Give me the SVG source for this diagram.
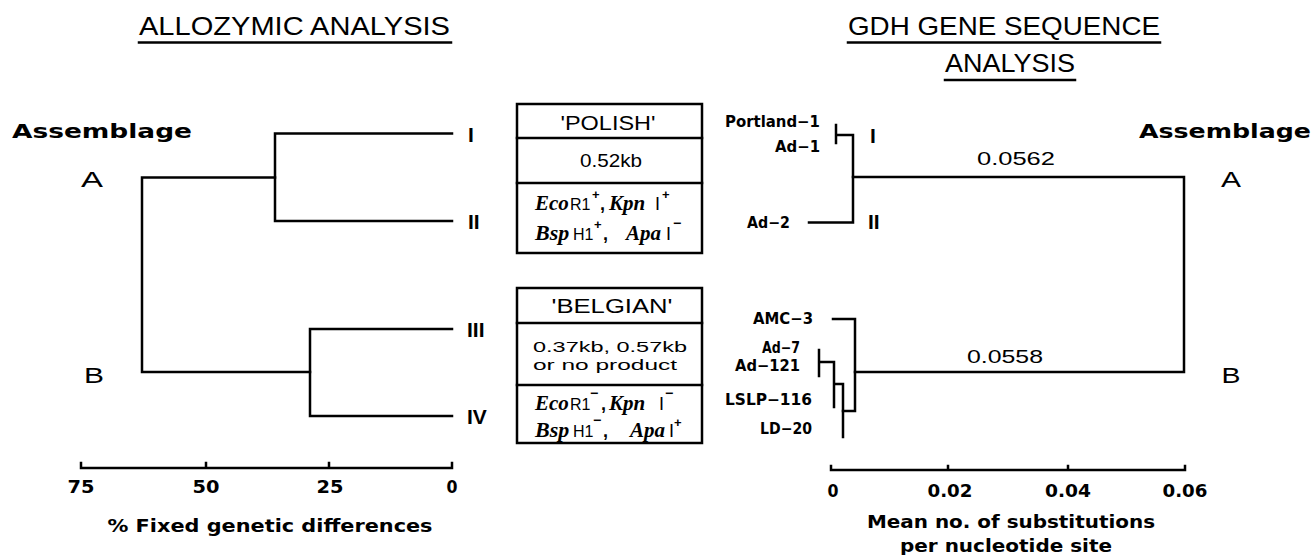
<svg xmlns="http://www.w3.org/2000/svg" width="1312" height="555" viewBox="0 0 1312 555">
<style>
.ln{stroke:#000;stroke-width:2.5;fill:none;stroke-linecap:square}
.bx{stroke:#000;stroke-width:2.5;fill:#fff}
.t{font-family:"Liberation Sans",Arial,sans-serif;fill:#000}
.d{font-family:"DejaVu Sans","Liberation Sans",sans-serif;font-weight:bold;fill:#000}
.b{font-weight:bold}
.s{font-family:"Liberation Serif","Times New Roman",serif;font-weight:bold;font-style:italic}
.p{font-size:13px;font-weight:bold}
.m{text-anchor:middle}
.e{text-anchor:end}
</style>
<rect width="1312" height="555" fill="#fff"/>

<g id="titles">
<text class="t" x="139" y="35" font-size="25" textLength="311" lengthAdjust="spacingAndGlyphs">ALLOZYMIC  ANALYSIS</text>
<line class="ln" x1="139" y1="42.5" x2="451" y2="42.5" stroke-width="2"/>
<text class="t" x="848" y="35" font-size="25" textLength="312" lengthAdjust="spacingAndGlyphs">GDH  GENE  SEQUENCE</text>
<line class="ln" x1="848" y1="42.5" x2="1160" y2="42.5" stroke-width="2"/>
<text class="t" x="945" y="72" font-size="25" textLength="130" lengthAdjust="spacingAndGlyphs">ANALYSIS</text>
<line class="ln" x1="945" y1="80" x2="1075" y2="80" stroke-width="2"/>
</g>

<g id="assemblage-left">
<text class="d" x="12" y="138" font-size="19" textLength="180" lengthAdjust="spacingAndGlyphs">Assemblage</text>
<text class="t" x="92" y="187" font-size="22" text-anchor="middle" textLength="22" lengthAdjust="spacingAndGlyphs">A</text>
<text class="t" x="94" y="383" font-size="22" text-anchor="middle" textLength="20" lengthAdjust="spacingAndGlyphs">B</text>
</g>
<g id="assemblage-right">
<text class="d" x="1139" y="138" font-size="19" textLength="172" lengthAdjust="spacingAndGlyphs">Assemblage</text>
<text class="t" x="1231" y="187" font-size="22" text-anchor="middle" textLength="20" lengthAdjust="spacingAndGlyphs">A</text>
<text class="t" x="1231" y="383" font-size="22" text-anchor="middle" textLength="19" lengthAdjust="spacingAndGlyphs">B</text>
</g>

<g id="roman-left" class="t b" font-size="21">
<text x="468" y="142">I</text>
<text x="468" y="229">II</text>
<text x="467" y="337">III</text>
<text x="467" y="424">IV</text>
</g>
<g id="roman-right" class="t b" font-size="21">
<text x="870" y="143">I</text>
<text x="868" y="229">II</text>
</g>

<g id="connectors">
<!-- left tree -->
<path class="ln" d="M452 133.5 H275 V221 H452"/>
<path class="ln" d="M275 177.5 H142 V372 H310"/>
<path class="ln" d="M452 329 H310 V416 H452"/>
<!-- left axis -->
<path class="ln" d="M81 463 V468 H452 V463 M206 463 V468 M329 463 V468" stroke-width="2"/>
<!-- right tree A -->
<path class="ln" d="M836 125 V143 M836 135 H853 M809 222.5 H853 V135"/>
<path class="ln" d="M853 177 H1184 V372 H855"/>
<!-- right tree B -->
<path class="ln" d="M833 319 H855 V411 H843"/>
<path class="ln" d="M819 350 V376 M819 362 H834 V407 M834 384 H843 V437"/>
<!-- right axis -->
<path class="ln" d="M831 466 V470 H1185 V466 M948 466 V470 M1068 466 V470" stroke-width="2"/>
</g>

<g id="left-axis-labels" class="d m" font-size="17">
<text x="81" y="493" textLength="27" lengthAdjust="spacingAndGlyphs">75</text>
<text x="206" y="493" textLength="27" lengthAdjust="spacingAndGlyphs">50</text>
<text x="330" y="493" textLength="27" lengthAdjust="spacingAndGlyphs">25</text>
<text x="452" y="493" textLength="11" lengthAdjust="spacingAndGlyphs">0</text>
<text x="270" y="532" textLength="325" lengthAdjust="spacingAndGlyphs">% Fixed  genetic  differences</text>
</g>

<g id="right-axis-labels" class="d m" font-size="17">
<text x="833" y="497" textLength="11" lengthAdjust="spacingAndGlyphs">0</text>
<text x="950" y="497" textLength="45" lengthAdjust="spacingAndGlyphs">0.02</text>
<text x="1068" y="497" textLength="46" lengthAdjust="spacingAndGlyphs">0.04</text>
<text x="1185" y="497" textLength="45" lengthAdjust="spacingAndGlyphs">0.06</text>
<text x="1011" y="528" textLength="288" lengthAdjust="spacingAndGlyphs">Mean  no.  of  substitutions</text>
<text x="1006" y="552" textLength="212" lengthAdjust="spacingAndGlyphs">per  nucleotide  site</text>
</g>

<g id="branch-lengths" class="t m" font-size="19">
<text x="1016" y="165" textLength="78" lengthAdjust="spacingAndGlyphs">0.0562</text>
<text x="1005" y="363" textLength="76" lengthAdjust="spacingAndGlyphs">0.0558</text>
</g>

<g id="taxa" class="d e" font-size="15">
<text x="820" y="127" textLength="95" lengthAdjust="spacingAndGlyphs">Portland−1</text>
<text x="820" y="152" textLength="45" lengthAdjust="spacingAndGlyphs">Ad−1</text>
<text x="790" y="228" textLength="43" lengthAdjust="spacingAndGlyphs">Ad−2</text>
<text x="813" y="324" textLength="60" lengthAdjust="spacingAndGlyphs">AMC−3</text>
<text x="800" y="353" textLength="38" lengthAdjust="spacingAndGlyphs">Ad−7</text>
<text x="800" y="371" textLength="65" lengthAdjust="spacingAndGlyphs">Ad−121</text>
<text x="812" y="405" textLength="87" lengthAdjust="spacingAndGlyphs">LSLP−116</text>
<text x="812" y="434" textLength="52" lengthAdjust="spacingAndGlyphs">LD−20</text>
</g>

<g id="box-polish">
<rect class="bx" x="517" y="104" width="185" height="149"/>
<line class="ln" x1="517" y1="138" x2="702" y2="138"/>
<line class="ln" x1="517" y1="183" x2="702" y2="183"/>
<text class="t m" x="608" y="130" font-size="20" textLength="95" lengthAdjust="spacingAndGlyphs">'POLISH'</text>
<text class="t m" x="611" y="167" font-size="19" textLength="62" lengthAdjust="spacingAndGlyphs">0.52kb</text>
<text class="t" font-size="16"><tspan class="s" x="535" y="210" font-size="21">Eco</tspan><tspan x="570" y="210">R1</tspan><tspan class="p" x="592" y="199">+</tspan><tspan x="600" y="210" font-weight="bold" font-size="18">,</tspan><tspan class="s" x="609" y="210" font-size="21">Kpn</tspan><tspan x="655" y="210" font-size="18">I</tspan><tspan class="p" x="662" y="199">+</tspan></text>
<text class="t" font-size="16"><tspan class="s" x="535" y="240" font-size="22">Bsp</tspan><tspan x="573" y="240">H1</tspan><tspan class="p" x="594" y="229">+</tspan><tspan x="603" y="240" font-weight="bold" font-size="18">,</tspan><tspan class="s" x="626" y="240" font-size="21">Apa</tspan><tspan x="666" y="240" font-size="18">I</tspan><tspan x="673" y="228" font-size="14" font-weight="bold">−</tspan></text>
</g>

<g id="box-belgian">
<rect class="bx" x="517" y="288" width="185" height="155"/>
<line class="ln" x1="517" y1="323" x2="702" y2="323"/>
<line class="ln" x1="517" y1="385" x2="702" y2="385"/>
<text class="t m" x="612" y="313" font-size="20" textLength="121" lengthAdjust="spacingAndGlyphs">'BELGIAN'</text>
<text class="t m" x="610" y="352" font-size="15.5" textLength="154" lengthAdjust="spacingAndGlyphs">0.37kb,  0.57kb</text>
<text class="t m" x="605" y="370" font-size="15.5" textLength="144" lengthAdjust="spacingAndGlyphs">or  no  product</text>
<text class="t" font-size="16"><tspan class="s" x="535" y="410" font-size="21">Eco</tspan><tspan x="570" y="410">R1</tspan><tspan x="590" y="398" font-size="14" font-weight="bold">−</tspan><tspan x="601" y="410" font-weight="bold" font-size="18">,</tspan><tspan class="s" x="609" y="410" font-size="21">Kpn</tspan><tspan x="659" y="410" font-size="18">I</tspan><tspan x="665" y="398" font-size="14" font-weight="bold">−</tspan></text>
<text class="t" font-size="16"><tspan class="s" x="535" y="437" font-size="22">Bsp</tspan><tspan x="573" y="437">H1</tspan><tspan x="593" y="425" font-size="14" font-weight="bold">−</tspan><tspan x="603" y="437" font-weight="bold" font-size="18">,</tspan><tspan class="s" x="630" y="437" font-size="21">Apa</tspan><tspan x="669" y="437" font-size="18">I</tspan><tspan class="p" x="674" y="427">+</tspan></text>
</g>
</svg>
